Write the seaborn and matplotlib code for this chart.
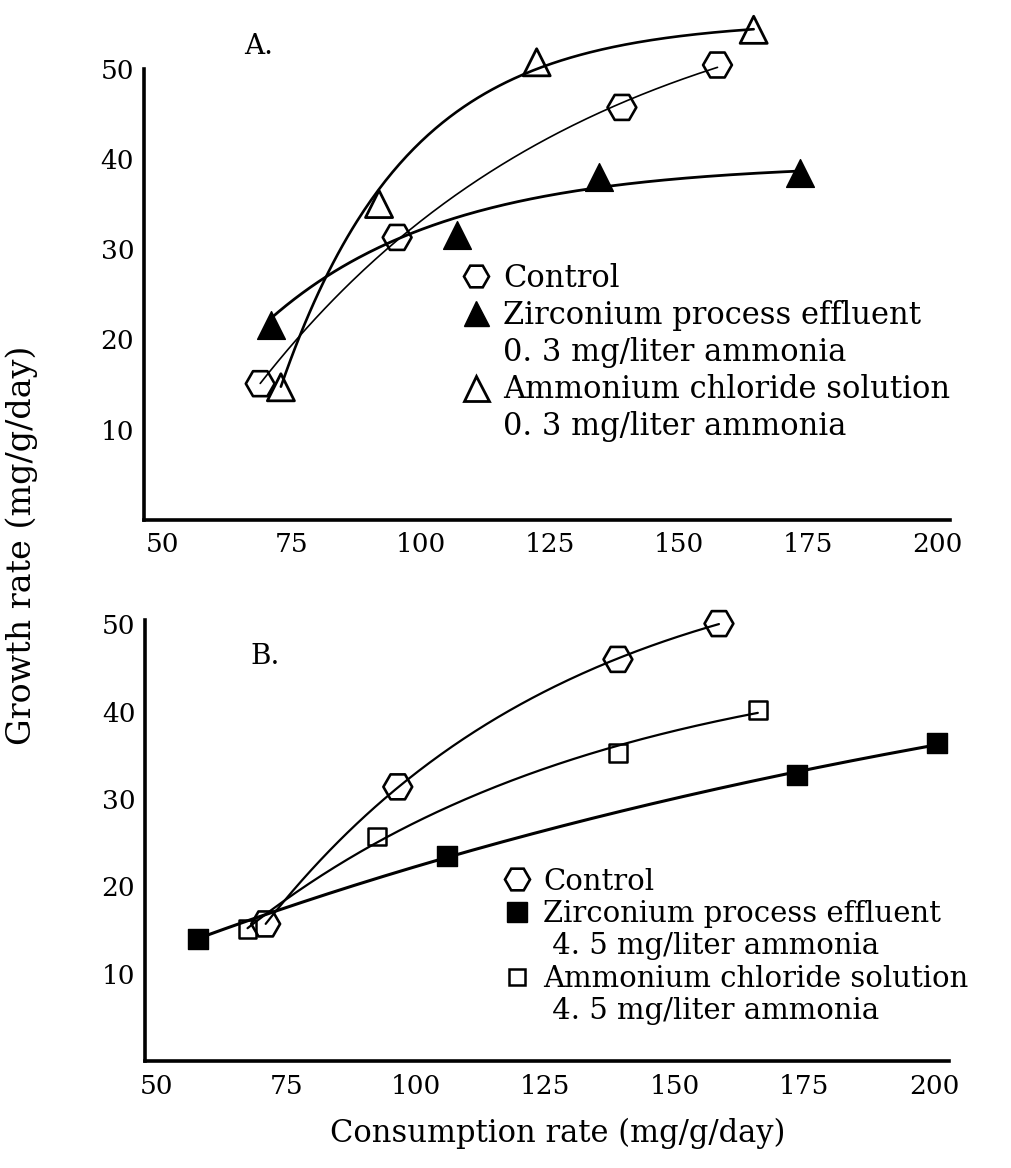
import matplotlib
matplotlib.use("Agg")
import matplotlib.pyplot as plt
from matplotlib.lines import Line2D
import numpy as np
import seaborn as sns

# Panel A: 0.3 mg/liter ammonia
a_control_x = [69.0, 95.5, 139.0, 157.5]
a_control_y = [15.1, 31.3, 45.7, 50.4]
a_zirc_x = [71.0, 107.0, 134.5, 173.5]
a_zirc_y = [21.6, 31.6, 38.0, 38.4]
a_nh4cl_x = [73.0, 92.0, 122.5, 164.5]
a_nh4cl_y = [14.7, 35.0, 50.7, 54.3]

# Panel B: 4.5 mg/liter ammonia
b_control_x = [71.0, 96.5, 139.0, 158.5]
b_control_y = [15.7, 31.4, 46.0, 50.1]
b_zirc_x = [58.0, 106.0, 173.5, 200.5]
b_zirc_y = [14.0, 23.5, 32.8, 36.4]
b_nh4cl_x = [67.5, 92.5, 139.0, 166.0]
b_nh4cl_y = [15.1, 25.7, 35.3, 40.2]

x_ticks = [50, 75, 100, 125, 150, 175, 200]
y_ticks = [10, 20, 30, 40, 50]

a_labels = ["Control", "Zirconium process effluent", "0. 3 mg/liter ammonia",
            "Ammonium chloride solution", "0. 3 mg/liter ammonia"]
b_labels = ["Control", "Zirconium process effluent", " 4. 5 mg/liter ammonia",
            "Ammonium chloride solution", " 4. 5 mg/liter ammonia"]

sns.set_style("white")
plt.rcParams["font.family"] = ["DejaVu Serif"]
for key in ("axes.edgecolor", "text.color", "axes.labelcolor",
            "xtick.color", "ytick.color"):
    plt.rcParams[key] = "black"

fig = plt.figure(figsize=(10.11, 11.68), dpi=100)
ax_a = fig.add_axes([0.1424, 0.5548, 0.8075, 0.4367])
ax_b = fig.add_axes([0.1434, 0.0916, 0.806, 0.3887])

ink = "black"


def saturating_fit(x, y):
    """Least-squares fit of y = cap - exp(b0 + b1*x) (rising, levelling off)."""
    x = np.asarray(x)
    y = np.asarray(y)
    best = None
    for cap in np.linspace(y.max() + 0.2, y.max() + 250, 3000):
        coef = np.polyfit(x, np.log(cap - y), 1)
        pred = cap - np.exp(np.polyval(coef, x))
        sse = float(np.sum((pred - y) ** 2))
        if best is None or sse < best[0]:
            best = (sse, cap, coef)
    _, cap, coef = best
    xs = np.linspace(x.min(), x.max(), 200)
    return xs, cap - np.exp(np.polyval(coef, xs))


def series(ax, x, y, marker, size, filled, lw, edge):
    xs, ys = saturating_fit(x, y)
    sns.lineplot(x=xs, y=ys, ax=ax, color=ink, linewidth=lw, zorder=2)
    sns.scatterplot(x=x, y=y, ax=ax, marker=marker, s=size,
                    facecolor=ink if filled else "none", edgecolor=ink,
                    linewidth=edge, zorder=3)


series(ax_a, a_control_x, a_control_y, "H", 430, False, 1.2, 1.9)
series(ax_a, a_zirc_x, a_zirc_y, "^", 400, True, 2.0, 1.0)
series(ax_a, a_nh4cl_x, a_nh4cl_y, "^", 380, False, 1.9, 2.0)

series(ax_b, b_control_x, b_control_y, "H", 430, False, 1.6, 1.9)
series(ax_b, b_zirc_x, b_zirc_y, "s", 210, True, 2.2, 1.0)
series(ax_b, b_nh4cl_x, b_nh4cl_y, "s", 160, False, 1.6, 1.8)

for ax, xlim, ylim, ytop in [(ax_a, (46.5, 204.5), (0, 56.5), 50.0),
                             (ax_b, (47.7, 205.0), (0, 52.0), 50.5)]:
    ax.set_xlim(*xlim)
    ax.set_ylim(*ylim)
    ax.set_xlabel("")
    ax.set_ylabel("")
    ax.set_facecolor("white")
    for side in ("top", "right"):
        ax.spines[side].set_visible(False)
    ax.spines["left"].set_linewidth(2.6)
    ax.spines["bottom"].set_linewidth(2.6)
    ax.spines["left"].set_bounds(0, ytop)
    ax.spines["bottom"].set_bounds(xlim[0], xlim[1] - 2.0)
    ax.set_xticks(x_ticks)
    ax.set_yticks(y_ticks)
    ax.set_xticklabels([str(v) for v in x_ticks])
    ax.set_yticklabels([str(v) for v in y_ticks])
    ax.tick_params(axis="x", direction="in", length=6, width=1.3,
                   pad=9, labelsize=19, colors=ink)
    ax.tick_params(axis="y", direction="in", length=7, width=2.2,
                   pad=7, labelsize=19, colors=ink)
    ax.grid(False)

ax_a.text(68.6, 52.4, "A.", fontsize=20, ha="center", va="center")
ax_b.text(70.8, 46.3, "B.", fontsize=20, ha="center", va="center")


def blank():
    return Line2D([], [], linestyle="none", marker=None)


a_handles = [
    Line2D([], [], linestyle="none", marker="H", markersize=18,
           markerfacecolor="none", markeredgecolor=ink, markeredgewidth=1.9),
    Line2D([], [], linestyle="none", marker="^", markersize=18,
           markerfacecolor=ink, markeredgecolor=ink),
    blank(),
    Line2D([], [], linestyle="none", marker="^", markersize=18,
           markerfacecolor="none", markeredgecolor=ink, markeredgewidth=2.0),
    blank(),
]
b_handles = [
    Line2D([], [], linestyle="none", marker="H", markersize=18,
           markerfacecolor="none", markeredgecolor=ink, markeredgewidth=1.9),
    Line2D([], [], linestyle="none", marker="s", markersize=14,
           markerfacecolor=ink, markeredgecolor=ink),
    blank(),
    Line2D([], [], linestyle="none", marker="s", markersize=11,
           markerfacecolor="none", markeredgecolor=ink, markeredgewidth=1.8),
    blank(),
]

ax_a.legend(a_handles, a_labels, loc="upper left",
            bbox_to_anchor=(0.4557, 0.7748), bbox_transform=fig.transFigure,
            frameon=False, fontsize=22, handlelength=1.0,
            handletextpad=0.4, labelspacing=0.2, borderpad=0,
            borderaxespad=0)
ax_b.legend(b_handles, b_labels, loc="upper left",
            bbox_to_anchor=(0.4969, 0.2571), bbox_transform=fig.transFigure,
            frameon=False, fontsize=21, handlelength=1.0,
            handletextpad=0.4, labelspacing=0.15, borderpad=0,
            borderaxespad=0)

fig.text(0.0218, 0.5334, "Growth rate (mg/g/day)", rotation=90,
         ha="center", va="center", fontsize=24)
fig.text(0.552, 0.030, "Consumption rate (mg/g/day)",
         ha="center", va="center", fontsize=22)

fig.savefig("out.png", dpi=100, facecolor="white")
